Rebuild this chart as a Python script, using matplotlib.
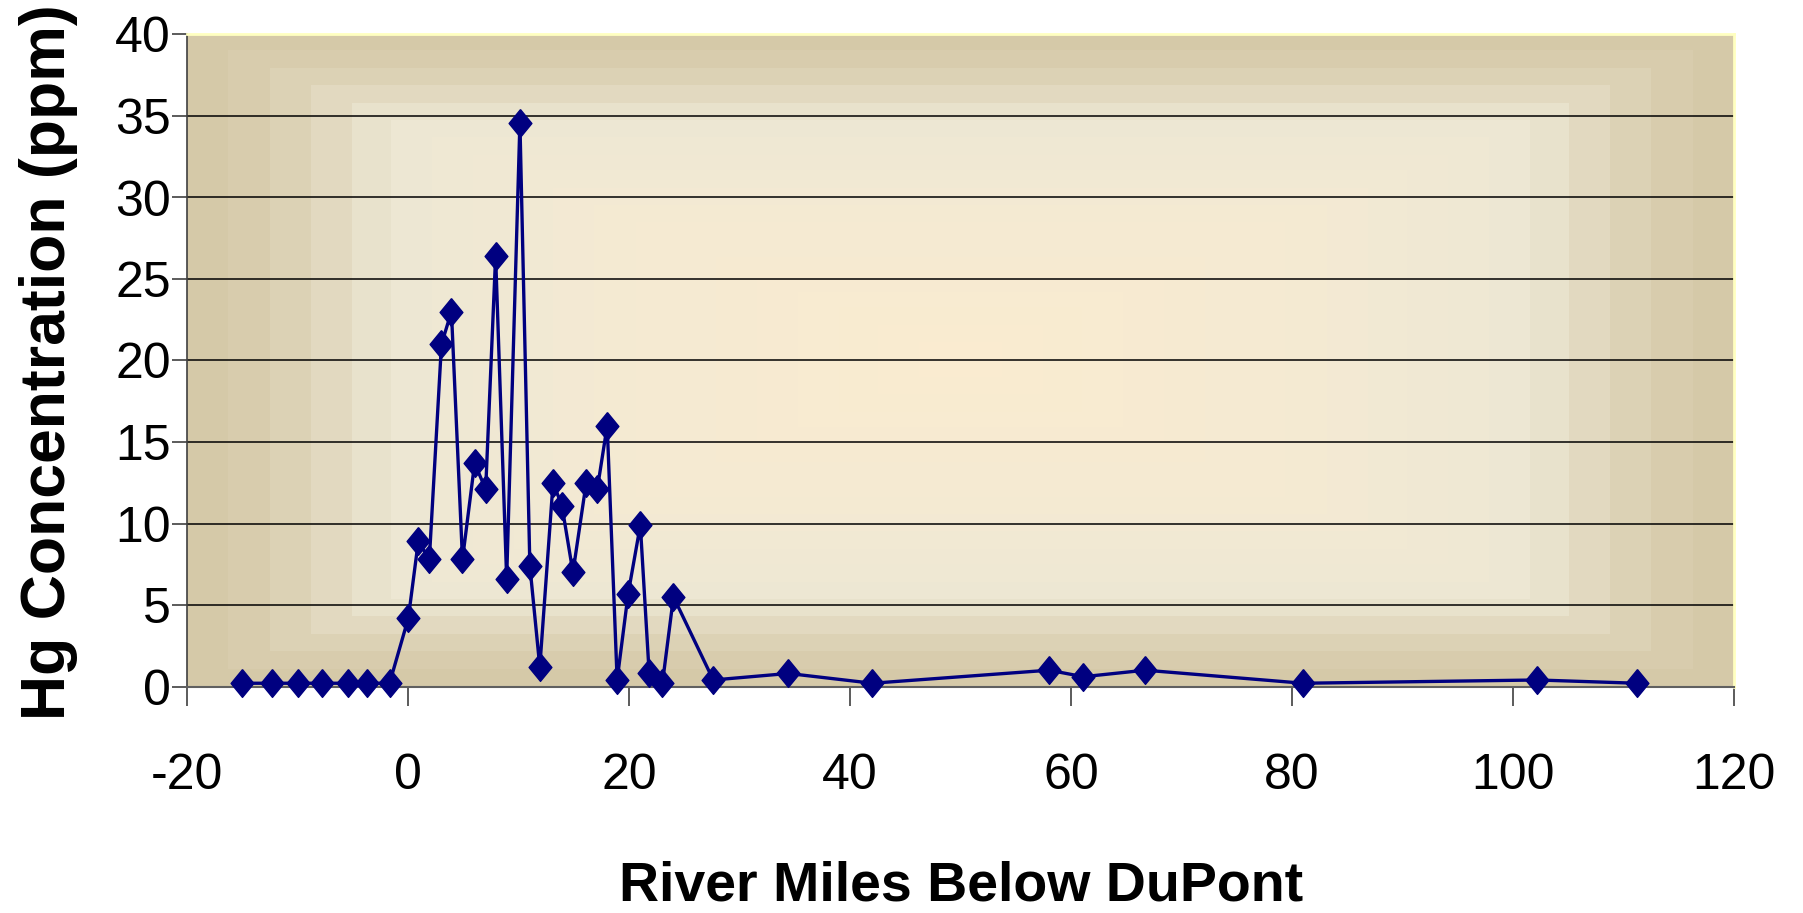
import matplotlib
matplotlib.use('Agg')
import matplotlib.pyplot as plt
import numpy as np

plt.rcParams['axes.unicode_minus'] = False

# river miles below DuPont and Hg concentration (ppm)
miles = [-15.1, -12.3, -10.0, -7.8, -5.5, -3.7, -1.7, 0.0, 0.9, 1.9,
         3.0, 3.9, 4.9, 6.0, 7.0, 7.9, 8.9, 10.1, 11.0, 11.9,
         13.1, 13.9, 14.9, 16.1, 17.1, 18.0, 18.9, 19.9, 21.0, 21.8,
         23.0, 24.0, 27.6, 34.4, 42.0, 58.0, 61.1, 66.7, 81.0, 102.2, 111.2]
hg = [0.2, 0.2, 0.2, 0.2, 0.2, 0.2, 0.2, 4.2, 8.9, 7.8,
      21.0, 23.0, 7.8, 13.7, 12.1, 26.4, 6.6, 34.6, 7.4, 1.2,
      12.5, 11.1, 7.0, 12.5, 12.1, 16.0, 0.4, 5.7, 9.9, 0.8,
      0.2, 5.5, 0.4, 0.8, 0.2, 1.0, 0.6, 1.0, 0.2, 0.4, 0.2]

xticks = [-20, 0, 20, 40, 60, 80, 100, 120]
yticks = [0, 5, 10, 15, 20, 25, 30, 35, 40]

W, H = 1803, 913
fig = plt.figure(figsize=(W / 100, H / 100), dpi=100)
left, right, top, bottom = 187.4, 1734, 34.5, 686.5
ax = fig.add_axes([left / W, 1 - bottom / H, (right - left) / W, (bottom - top) / H])

# rectangular "fill effect" gradient, banded like the original
ny, nx = 300, 600
U, V = np.meshgrid(np.linspace(-1, 1, nx), np.linspace(-1, 1, ny))
d = np.maximum(np.abs(U), np.abs(V))
d = np.ceil(d * 19) / 19
stops = [0.0, 0.5, 0.735, 0.79, 0.84, 0.894, 0.947, 1.0]
cols = np.array([(251, 236, 208), (244, 234, 211), (238, 232, 212), (232, 226, 204),
                 (227, 218, 193), (221, 211, 182), (217, 205, 174), (213, 201, 168)]) / 255
img = np.stack([np.interp(d, stops, cols[:, k]) for k in range(3)], axis=-1)
ax.imshow(img, extent=[0, 1, 0, 1], transform=ax.transAxes, aspect='auto',
          interpolation='nearest', zorder=0)

ax.set_xlim(-20, 120)
ax.set_ylim(0, 40)
ax.set_xticks(xticks)
ax.set_yticks(yticks)
ax.yaxis.grid(True, color='black', linewidth=1.1, zorder=1)
ax.set_axisbelow(True)

diamond = [(0, 1), (0.82, 0), (0, -1), (-0.82, 0), (0, 1)]
ax.plot(miles, hg, color='#000080', linewidth=2.4, marker=diamond, markersize=20,
        markerfacecolor='#000080', markeredgecolor='#000080', zorder=3, clip_on=False)

for s in ['top', 'right']:
    ax.spines[s].set_color('#FFFFC0')
    ax.spines[s].set_linewidth(2)
ax.spines['left'].set_color('#404040')
ax.spines['bottom'].set_color('#606060')
ax.spines['left'].set_linewidth(1.2)
ax.spines['bottom'].set_linewidth(1.5)

ax.tick_params(axis='y', length=11, width=1.2, color='#404040', pad=1,
               labelsize=36, labelfontfamily='Liberation Sans')
ax.tick_params(axis='x', length=14, width=1.2, color='#404040', pad=34,
               labelsize=36, labelfontfamily='Liberation Sans')

fig.text(49 / W, 1 - 362 / H, 'Hg Concentration (ppm)', rotation=90,
         ha='center', va='center', fontsize=45, fontweight='bold',
         family='Liberation Sans')
fig.text((left + right) / 2 / W, 1 - 900 / H, 'River Miles Below DuPont',
         ha='center', va='baseline', fontsize=40, fontweight='bold',
         family='Liberation Sans')

fig.savefig('out.png', dpi=100)
